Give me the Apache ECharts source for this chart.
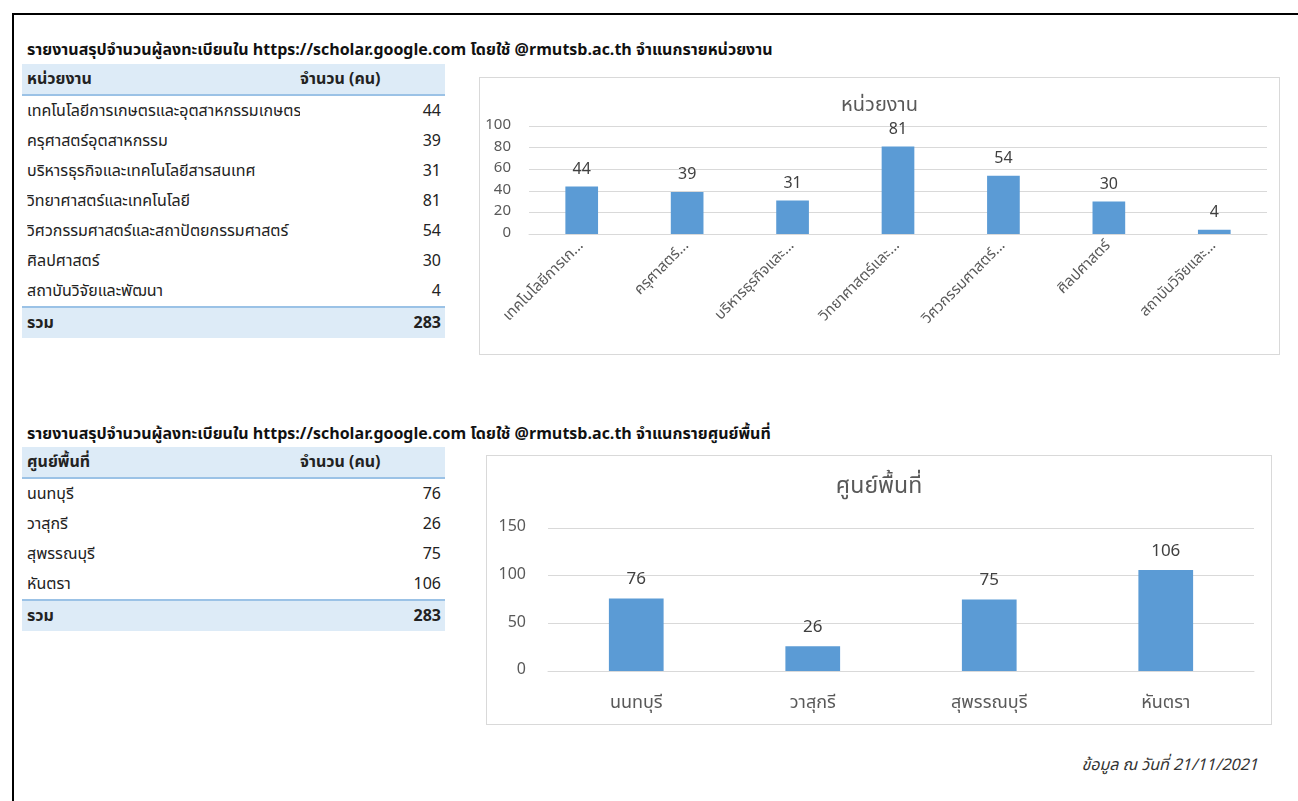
<!DOCTYPE html>
<html><head><meta charset="utf-8">
<script src="https://cdn.jsdelivr.net/npm/echarts@6/dist/echarts.min.js"></script>
<style>
html,body{margin:0;padding:0;background:#fff;width:1298px;height:801px;overflow:hidden;font-family:Tahoma,"Noto Sans Thai","Noto Sans","DejaVu Sans",sans-serif;color:#222;}
#frame{position:absolute;left:12px;top:13px;width:1300px;height:800px;border-left:2px solid #000;border-top:2px solid #000;}
.ttl{position:absolute;left:27px;font-size:16px;font-weight:bold;white-space:nowrap;color:#111;}
.tbl{position:absolute;left:22px;width:423px;font-size:16px;}
.row{position:relative;height:30px;line-height:30px;}
.row .n{position:absolute;left:5px;width:273px;overflow:hidden;white-space:nowrap;}
.row .v{position:absolute;right:4px;text-align:right;}
.hdr{background:#DDEBF7;border-bottom:2px solid #9BC2E6;height:30px;line-height:30px;font-weight:bold;}
.hdr .h2{position:absolute;left:278px;}
.tot{background:#DDEBF7;border-top:2px solid #9BC2E6;font-weight:bold;}
.box{position:absolute;border:1px solid #d9d9d9;background:#fff;}
#foot{position:absolute;right:40px;top:753px;font-size:16px;font-style:italic;color:#333;}
</style></head>
<body>
<div id="frame"></div>
<div class="ttl" style="top:38px">รายงานสรุปจำนวนผู้ลงทะเบียนใน https://scholar.google.com โดยใช้ @rmutsb.ac.th จำแนกรายหน่วยงาน</div>
<div class="tbl" id="t1" style="top:64px"></div>
<div class="ttl" style="top:422px">รายงานสรุปจำนวนผู้ลงทะเบียนใน https://scholar.google.com โดยใช้ @rmutsb.ac.th จำแนกรายศูนย์พื้นที่</div>
<div class="tbl" id="t2" style="top:447px"></div>
<div class="box" id="c1" style="left:479px;top:77px;width:799px;height:276px"></div>
<div class="box" id="c2" style="left:486px;top:455px;width:784px;height:268px"></div>
<div id="foot">ข้อมูล ณ วันที่ 21/11/2021</div>
<script>
// ---- data ----
var unitTitle = "หน่วยงาน";
var unitNames = ["เทคโนโลยีการเกษตรและอุตสาหกรรมเกษตร","ครุศาสตร์อุตสาหกรรม","บริหารธุรกิจและเทคโนโลยีสารสนเทศ","วิทยาศาสตร์และเทคโนโลยี","วิศวกรรมศาสตร์และสถาปัตยกรรมศาสตร์","ศิลปศาสตร์","สถาบันวิจัยและพัฒนา"];
var unitTickLabels = ["เทคโนโลยีการเก...","ครุศาสตร์...","บริหารธุรกิจและ...","วิทยาศาสตร์และ...","วิศวกรรมศาสตร์...","ศิลปศาสตร์","สถาบันวิจัยและ..."];
var unitValues = [44,39,31,81,54,30,4];
var unitTotal = 283;
var areaTitle = "ศูนย์พื้นที่";
var areaNames = ["นนทบุรี","วาสุกรี","สุพรรณบุรี","หันตรา"];
var areaValues = [76,26,75,106];
var areaTotal = 283;
var countHeader = "จำนวน (คน)";
var totalLabel = "รวม";

function buildTable(el, head, names, vals, total){
  var h = '<div class="row hdr"><span class="n">'+head+'</span><span class="h2">'+countHeader+'</span></div>';
  for (var i=0;i<names.length;i++){
    h += '<div class="row"><span class="n">'+names[i]+'</span><span class="v">'+vals[i]+'</span></div>';
  }
  h += '<div class="row tot"><span class="n">'+totalLabel+'</span><span class="v">'+total+'</span></div>';
  document.getElementById(el).innerHTML = h;
}
buildTable('t1', unitTitle, unitNames, unitValues, unitTotal);
buildTable('t2', areaTitle, areaNames, areaValues, areaTotal);

var FF = 'Tahoma,"Noto Sans Thai","Noto Sans","DejaVu Sans",sans-serif';
var BLUE = '#5B9BD5';

var c1 = echarts.init(document.getElementById('c1'));
c1.setOption({
  animation:false,
  title:{text:unitTitle,left:'center',top:14,textStyle:{fontFamily:FF,fontSize:20,fontWeight:'normal',color:'#595959'}},
  grid:{left:49,right:12,top:48,bottom:120},
  xAxis:{type:'category',data:unitTickLabels,
    axisLine:{lineStyle:{color:'#d9d9d9'}},axisTick:{show:false},
    axisLabel:{rotate:45,interval:0,margin:10,fontFamily:FF,fontSize:15,color:'#595959'}},
  yAxis:{type:'value',min:0,max:100,interval:20,
    axisLine:{show:false},axisTick:{show:false},
    axisLabel:{fontFamily:FF,fontSize:15,color:'#595959',margin:18},
    splitLine:{lineStyle:{color:'#d9d9d9'}}},
  series:[{type:'bar',data:unitValues,barWidth:'31%',itemStyle:{color:BLUE},
    label:{show:true,position:'top',distance:8,fontFamily:FF,fontSize:16,color:'#404040'}}]
});

var c2 = echarts.init(document.getElementById('c2'));
c2.setOption({
  animation:false,
  title:{text:areaTitle,left:'center',top:16,textStyle:{fontFamily:FF,fontSize:23,fontWeight:'normal',color:'#595959'}},
  grid:{left:61,right:17,top:72,bottom:53},
  xAxis:{type:'category',data:areaNames,
    axisLine:{lineStyle:{color:'#d9d9d9'}},axisTick:{show:false},
    axisLabel:{interval:0,margin:24,fontFamily:FF,fontSize:18,color:'#595959'}},
  yAxis:{type:'value',min:0,max:150,interval:50,
    axisLine:{show:false},axisTick:{show:false},
    axisLabel:{fontFamily:FF,fontSize:16,color:'#595959',margin:22},
    splitLine:{lineStyle:{color:'#d9d9d9'}}},
  series:[{type:'bar',data:areaValues,barWidth:'31%',itemStyle:{color:BLUE},
    label:{show:true,position:'top',distance:9,fontFamily:FF,fontSize:17,color:'#404040'}}]
});
</script>
</body></html>
